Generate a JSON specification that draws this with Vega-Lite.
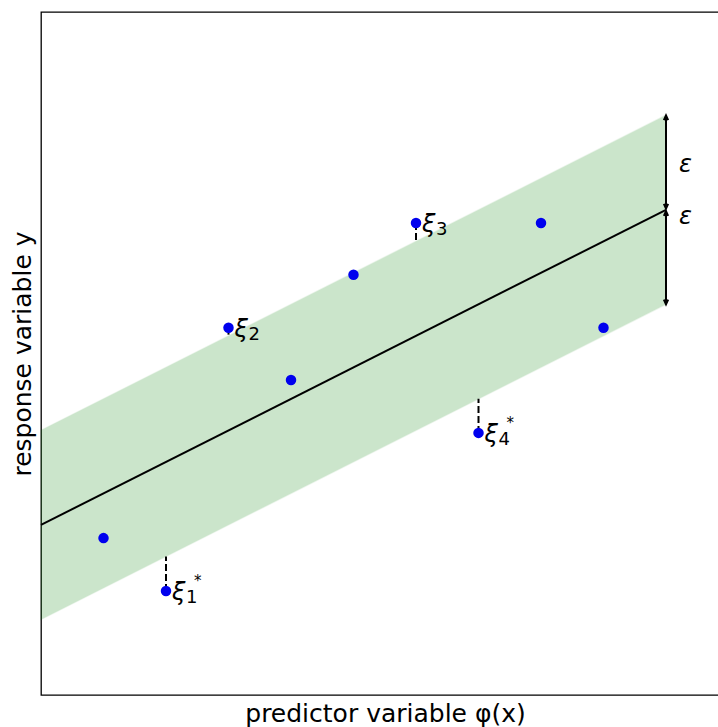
{
  "$schema": "https://vega.github.io/schema/vega-lite/v6.json",
  "autosize": "none",
  "padding": {"left": 41, "top": 12, "right": 0, "bottom": 32},
  "width": 690,
  "height": 683,
  "background": "white",
  "config": {
    "view": {"stroke": "black", "strokeWidth": 1.3},
    "font": "DejaVu Sans",
    "axis": {"labels": false, "ticks": false, "domain": false, "grid": false, "titleFont": "DejaVu Sans", "titleFontSize": 25, "titleFontWeight": "normal", "titleColor": "black", "titlePadding": 6}
  },
  "datasets": {
    "band": [
      {"x": 0, "lo": 1.2, "mid": 2.7, "hi": 4.2},
      {"x": 10, "lo": 6.2, "mid": 7.7, "hi": 9.2}
    ],
    "pts": [
      {"x": 1, "y": 2.49, "lab": "", "sub": "", "sup": ""},
      {"x": 2, "y": 1.65, "lab": "ξ", "sub": "1", "sup": "*"},
      {"x": 3, "y": 5.83, "lab": "ξ", "sub": "2", "sup": ""},
      {"x": 4, "y": 5.0, "lab": "", "sub": "", "sup": ""},
      {"x": 5, "y": 6.67, "lab": "", "sub": "", "sup": ""},
      {"x": 6, "y": 7.49, "lab": "ξ", "sub": "3", "sup": ""},
      {"x": 7, "y": 4.16, "lab": "ξ", "sub": "4", "sup": "*"},
      {"x": 8, "y": 7.49, "lab": "", "sub": "", "sup": ""},
      {"x": 9, "y": 5.83, "lab": "", "sub": "", "sup": ""}
    ],
    "slack": [
      {"x": 2, "y": 1.65, "y2": 2.2},
      {"x": 3, "y": 5.83, "y2": 5.7},
      {"x": 6, "y": 7.49, "y2": 7.2},
      {"x": 7, "y": 4.16, "y2": 4.7}
    ],
    "arrows": [
      {"x": 10, "y": 9.2, "y2": 7.72},
      {"x": 10, "y": 7.68, "y2": 6.2}
    ],
    "heads": [
      {"x": 10, "y": 9.2, "dir": "up"},
      {"x": 10, "y": 7.72, "dir": "down"},
      {"x": 10, "y": 7.68, "dir": "up"},
      {"x": 10, "y": 6.2, "dir": "down"}
    ],
    "eps": [
      {"x": 10.31, "y": 8.41, "t": "ε"},
      {"x": 10.31, "y": 7.59, "t": "ε"}
    ]
  },
  "encoding": {
    "x": {"type": "quantitative", "scale": {"domain": [0, 11.04], "nice": false, "zero": false}, "axis": {"title": "predictor variable φ(x)", "titleX": 344}},
    "y": {"type": "quantitative", "scale": {"domain": [0, 10.84], "nice": false, "zero": false}, "axis": {"title": "response variable y"}}
  },
  "layer": [
    {
      "data": {"name": "band"},
      "mark": {"type": "area", "color": "green", "opacity": 0.2, "stroke": "green", "strokeOpacity": 0.4, "strokeWidth": 1.5},
      "encoding": {"x": {"field": "x", "type": "quantitative"}, "y": {"field": "lo", "type": "quantitative"}, "y2": {"field": "hi"}}
    },
    {
      "data": {"name": "band"},
      "mark": {"type": "line", "color": "black", "strokeWidth": 2},
      "encoding": {"x": {"field": "x", "type": "quantitative"}, "y": {"field": "mid", "type": "quantitative"}}
    },
    {
      "data": {"name": "slack"},
      "mark": {"type": "rule", "color": "black", "strokeWidth": 2, "strokeDash": [7, 3]},
      "encoding": {"x": {"field": "x", "type": "quantitative"}, "y": {"field": "y", "type": "quantitative"}, "y2": {"field": "y2"}}
    },
    {
      "data": {"name": "arrows"},
      "mark": {"type": "rule", "color": "black", "strokeWidth": 2},
      "encoding": {"x": {"field": "x", "type": "quantitative"}, "y": {"field": "y", "type": "quantitative"}, "y2": {"field": "y2"}}
    },
    {
      "data": {"name": "heads"},
      "mark": {"type": "point", "filled": false, "color": "black", "strokeWidth": 2, "size": 90, "opacity": 1},
      "encoding": {
        "x": {"field": "x", "type": "quantitative"},
        "y": {"field": "y", "type": "quantitative"},
        "shape": {"field": "dir", "type": "nominal", "legend": null, "scale": {"domain": ["up", "down"], "range": ["M-0.45,1L0,0L0.45,1", "M-0.45,-1L0,0L0.45,-1"]}}
      }
    },
    {
      "data": {"name": "pts"},
      "mark": {"type": "circle", "color": "#0000ee", "opacity": 1, "size": 110},
      "encoding": {"x": {"field": "x", "type": "quantitative"}, "y": {"field": "y", "type": "quantitative"}}
    },
    {
      "data": {"name": "pts"},
      "mark": {"type": "text", "align": "left", "baseline": "middle", "dx": 6, "dy": 2, "fontSize": 24, "fontStyle": "italic", "font": "DejaVu Sans", "color": "black"},
      "encoding": {"x": {"field": "x", "type": "quantitative"}, "y": {"field": "y", "type": "quantitative"}, "text": {"field": "lab"}}
    },
    {
      "data": {"name": "pts"},
      "mark": {"type": "text", "align": "left", "baseline": "middle", "dx": 20, "dy": 7, "fontSize": 18, "font": "DejaVu Sans", "color": "black"},
      "encoding": {"x": {"field": "x", "type": "quantitative"}, "y": {"field": "y", "type": "quantitative"}, "text": {"field": "sub"}}
    },
    {
      "data": {"name": "pts"},
      "mark": {"type": "text", "align": "left", "baseline": "middle", "dx": 28, "dy": -10, "fontSize": 15, "font": "DejaVu Sans", "color": "black"},
      "encoding": {"x": {"field": "x", "type": "quantitative"}, "y": {"field": "y", "type": "quantitative"}, "text": {"field": "sup"}}
    },
    {
      "data": {"name": "eps"},
      "mark": {"type": "text", "align": "center", "baseline": "middle", "fontSize": 24, "fontStyle": "italic", "font": "DejaVu Sans", "color": "black"},
      "encoding": {"x": {"field": "x", "type": "quantitative"}, "y": {"field": "y", "type": "quantitative"}, "text": {"field": "t"}}
    }
  ]
}
